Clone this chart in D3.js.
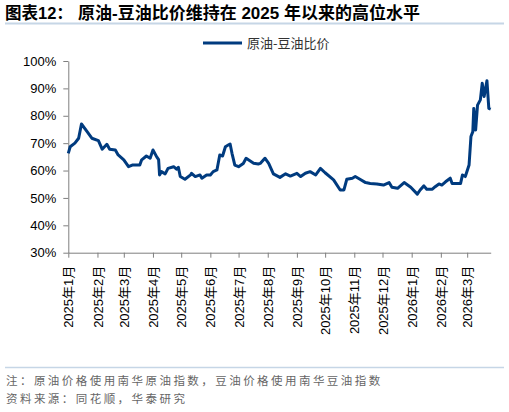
<!DOCTYPE html>
<html><head><meta charset="utf-8">
<script src="https://cdn.jsdelivr.net/npm/d3@7"></script>
<style>
body{margin:0;background:#fff;}
svg{display:block;}
</style></head>
<body>
<svg id="c" width="509" height="412"></svg>
<script>
const titlePrefix = "图表12：";
const titleText = "原油-豆油比价维持在 2025 年以来的高位水平";
const seriesName = "原油-豆油比价";
const noteText = "注：原油价格使用南华原油指数，豆油价格使用南华豆油指数";
const sourceText = "资料来源：同花顺，华泰研究";

const dates = ["2025-01-01","2025-01-03","2025-01-08","2025-01-12","2025-01-15","2025-01-21","2025-01-26","2025-02-02","2025-02-06","2025-02-11","2025-02-14","2025-02-20","2025-02-23","2025-03-01","2025-03-06","2025-03-10","2025-03-18","2025-03-20","2025-03-25","2025-03-29","2025-04-01","2025-04-05","2025-04-07","2025-04-08","2025-04-10","2025-04-14","2025-04-17","2025-04-23","2025-04-26","2025-04-28","2025-04-30","2025-05-05","2025-05-11","2025-05-12","2025-05-16","2025-05-21","2025-05-23","2025-05-28","2025-06-01","2025-06-04","2025-06-08","2025-06-11","2025-06-14","2025-06-17","2025-06-20","2025-06-22","2025-06-24","2025-06-27","2025-07-01","2025-07-06","2025-07-09","2025-07-13","2025-07-17","2025-07-22","2025-07-24","2025-07-29","2025-08-02","2025-08-07","2025-08-14","2025-08-20","2025-08-25","2025-09-01","2025-09-05","2025-09-10","2025-09-15","2025-09-21","2025-09-26","2025-10-01","2025-10-10","2025-10-17","2025-10-21","2025-10-24","2025-10-30","2025-11-02","2025-11-07","2025-11-13","2025-11-18","2025-11-25","2025-12-02","2025-12-08","2025-12-11","2025-12-17","2025-12-24","2025-12-31","2026-01-07","2026-01-10","2026-01-14","2026-01-17","2026-01-23","2026-01-26","2026-01-30","2026-02-02","2026-02-06","2026-02-11","2026-02-13","2026-02-22","2026-02-24","2026-02-27","2026-03-03","2026-03-05","2026-03-07","2026-03-08","2026-03-10","2026-03-12","2026-03-15","2026-03-17","2026-03-19","2026-03-22","2026-03-24","2026-03-26"];
const ratio = [66.3,68.7,70.0,71.8,77.0,74.2,71.8,70.9,67.8,69.6,67.8,67.5,65.7,63.9,61.4,62.0,62.0,63.9,65.3,64.5,67.5,65.0,64.0,58.4,59.6,58.8,60.8,61.4,60.5,61.2,57.8,56.8,58.4,59.0,57.8,58.4,57.2,58.4,58.4,59.6,60.2,65.7,65.3,68.7,69.3,69.7,66.3,62.0,61.4,62.6,64.5,63.6,62.7,62.4,62.6,64.5,62.6,58.8,57.5,58.8,58.0,59.0,57.8,59.0,59.6,58.4,60.8,59.2,56.6,52.9,52.9,56.8,57.2,57.8,56.8,55.6,55.3,55.1,54.7,55.6,53.9,53.5,55.6,53.9,51.4,52.9,54.4,53.2,53.2,54.1,55.1,54.7,55.9,57.2,55.3,55.3,58.4,57.8,62.0,72.4,74.2,82.7,74.8,83.9,85.8,91.9,87.0,92.8,82.7,82.4];
const yTicks = [30,40,50,60,70,80,90,100];
const xTickLabels = ["2025年1月","2025年2月","2025年3月","2025年4月","2025年5月","2025年6月","2025年7月","2025年8月","2025年9月","2025年10月","2025年11月","2025年12月","2026年1月","2026年2月","2026年3月"];
const xTickDates = ["2025-01-01","2025-02-01","2025-03-01","2025-04-01","2025-05-01","2025-06-01","2025-07-01","2025-08-01","2025-09-01","2025-10-01","2025-11-01","2025-12-01","2026-01-01","2026-02-01","2026-03-01"];

const parse = d3.utcParse("%Y-%m-%d");
const data = dates.map((d,i)=>({date:parse(d), v:ratio[i]}));
const svg = d3.select("#c");
const font = "'Liberation Sans', Arial, 'Noto Sans CJK SC', sans-serif";
const cjk = "'Noto Sans CJK SC', sans-serif";

// title
svg.append("text").attr("x",5).attr("y",19).attr("font-family",font).attr("font-weight","bold")
  .attr("font-size",16.5).attr("fill","#000").text(titlePrefix);
svg.append("text").attr("x",78).attr("y",19).attr("font-family",font).attr("font-weight","bold")
  .attr("font-size",17).attr("fill","#000").text(titleText);
svg.append("line").attr("x1",5).attr("x2",504).attr("y1",23.5).attr("y2",23.5)
  .attr("stroke","#c6d6e6").attr("stroke-width",2);

const x = d3.scaleUtc().domain([parse("2025-01-01"), parse("2026-03-26")]).range([68.3, 490.7]);
const y = d3.scaleLinear().domain([30,100]).range([252.7, 61]);

// y axis
const yAxis = d3.axisLeft(y).tickValues(yTicks).tickFormat(d=>d+"%").tickSize(5).tickSizeOuter(0);
const gy = svg.append("g").attr("transform","translate(68.3,0)").call(yAxis);
gy.select(".domain").attr("stroke","#7f7f7f");
gy.selectAll(".tick line").attr("stroke","#7f7f7f");
gy.selectAll(".tick text").attr("font-family",font).attr("font-size",13).attr("fill","#000").attr("x",-12);

// x axis
const xAxis = d3.axisBottom(x).tickValues(xTickDates.map(parse)).tickFormat((d,i)=>xTickLabels[i]).tickSize(5).tickSizeOuter(0);
const gx = svg.append("g").attr("transform","translate(0,252.7)").call(xAxis);
gx.select(".domain").attr("stroke","#7f7f7f");
gx.selectAll(".tick line").attr("stroke","#7f7f7f");
gx.selectAll(".tick text").attr("font-family",font).attr("font-size",13).attr("fill","#000")
  .attr("text-anchor","end").attr("transform","rotate(-90)").attr("x",-13).attr("y",0).attr("dy","0.35em").attr("dx",0);

// line
const line = d3.line().x(d=>x(d.date)).y(d=>y(d.v));
svg.append("path").datum(data).attr("d",line).attr("fill","none")
  .attr("stroke","#003b7f").attr("stroke-width",3).attr("stroke-linejoin","round");

// legend
svg.append("line").attr("x1",203).attr("x2",242).attr("y1",43).attr("y2",43).attr("stroke","#003b7f").attr("stroke-width",3);
svg.append("text").attr("x",247).attr("y",47.5).attr("font-family",cjk).attr("font-size",13).attr("fill","#333").text(seriesName);

// footer
svg.append("line").attr("x1",5).attr("x2",504).attr("y1",367.5).attr("y2",367.5).attr("stroke","#c6d6e6").attr("stroke-width",1.5);
svg.append("text").attr("x",6).attr("y",385).attr("font-family",cjk).attr("font-size",11.5).attr("letter-spacing",2.45).attr("fill","#666").text(noteText);
svg.append("text").attr("x",6).attr("y",403).attr("font-family",cjk).attr("font-size",11.5).attr("letter-spacing",2.45).attr("fill","#666").text(sourceText);
</script>
</body></html>
